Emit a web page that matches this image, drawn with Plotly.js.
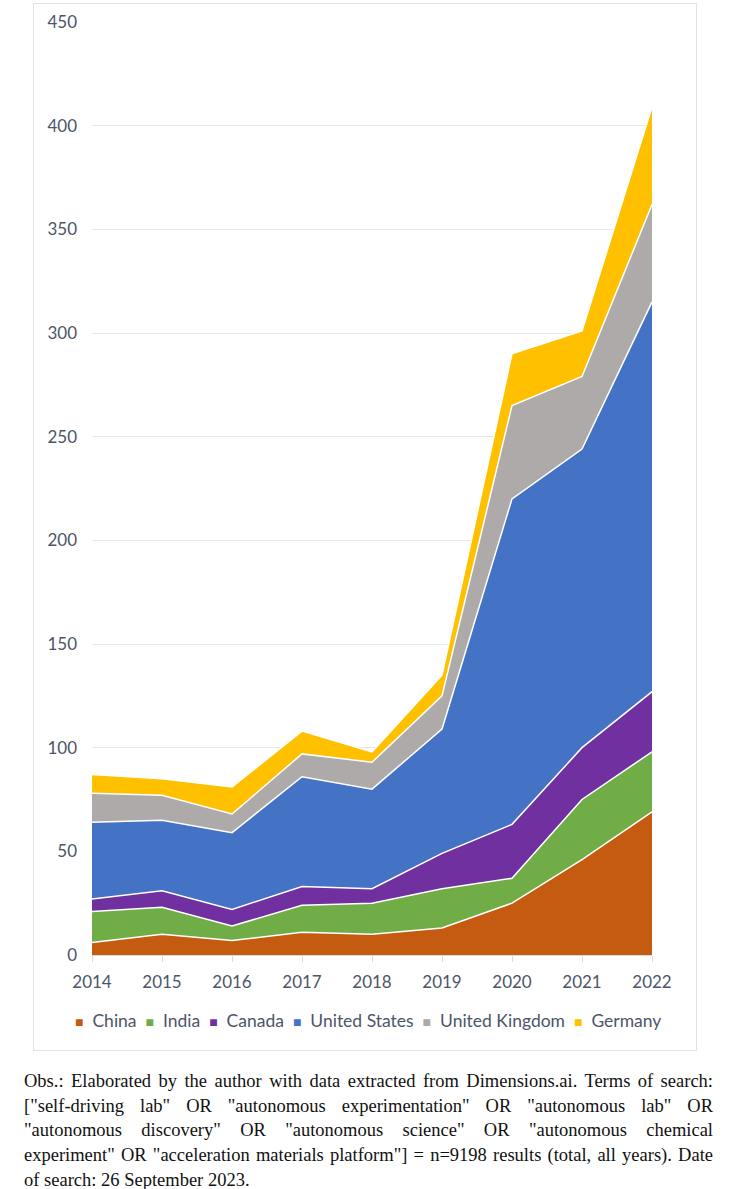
<!DOCTYPE html>
<html>
<head>
<meta charset="utf-8">
<script src="https://cdn.plot.ly/plotly-3.0.1.min.js"></script>
<style>
  html, body { margin: 0; padding: 0; background: #ffffff; width: 744px; height: 1189px; overflow: hidden; }
  #chart { position: absolute; left: 33px; top: 3px; width: 662px; height: 1046px; border: 1px solid #dfe2e7; }
  #note { position: absolute; left: 24px; top: 1069px; width: 689px; font-family: "Liberation Serif", "DejaVu Serif", serif; font-size: 18.5px; line-height: 24.7px; color: #111111; }
  #note .j { text-align: justify; text-align-last: justify; white-space: nowrap; }
  #note .l { text-align: left; white-space: nowrap; }
</style>
</head>
<body>
<div id="chart"></div>
<div id="note">
  <div class="j">Obs.: Elaborated by the author with data extracted from Dimensions.ai. Terms of search:</div>
  <div class="j">["self-driving lab" OR "autonomous experimentation" OR "autonomous lab" OR</div>
  <div class="j">"autonomous discovery" OR "autonomous science" OR "autonomous chemical</div>
  <div class="j">experiment" OR "acceleration materials platform"] = n=9198 results (total, all years). Date</div>
  <div class="l">of search: 26 September 2023.</div>
</div>
<script>
const years = [2014, 2015, 2016, 2017, 2018, 2019, 2020, 2021, 2022];
const china = [6, 10, 7, 11, 10, 13, 25, 46, 69];
const india = [15, 13, 7, 13, 15, 19, 12, 29, 29];
const canada = [6, 8, 8, 9, 7, 17, 26, 25, 29];
const unitedStates = [37, 34, 37, 53, 48, 60, 157, 144, 188];
const unitedKingdom = [14, 12, 9, 11, 13, 16, 45, 35, 47];
const germany = [9, 8, 13, 11, 5, 10, 25, 22, 47];
const yTicks = [0, 50, 100, 150, 200, 250, 300, 350, 400, 450];

const seriesNames = ["China", "India", "Canada", "United States", "United Kingdom", "Germany"];
const seriesValues = [china, india, canada, unitedStates, unitedKingdom, germany];
const seriesColors = ["#C55A11", "#70AD47", "#7030A0", "#4472C4", "#AEAAAA", "#FFC000"];

const traces = seriesValues.map((vals, i) => ({
  type: "scatter", mode: "lines", x: years, y: vals,
  stackgroup: "one", name: seriesNames[i],
  line: { color: "#ffffff", width: 1.5 },
  fillcolor: seriesColors[i],
  showlegend: false, hoverinfo: "skip"
}));

const tickColor = "#4d5568";
const nb = "\u00A0";
const legendText = seriesNames.map((n, i) =>
  `<span style="color:${seriesColors[i]};font-size:14px">■</span>${nb}${nb}${n}`
).join(nb + nb);

const layout = {
  width: 662, height: 1046,
  margin: { l: 58, r: 44, t: 18, b: 95 },
  paper_bgcolor: "#ffffff", plot_bgcolor: "#ffffff",
  font: { family: "Lato, 'Open Sans', sans-serif", size: 17, color: tickColor },
  showlegend: false,
  xaxis: {
    range: [2014, 2022], tickvals: years, ticktext: years.map(String),
    showgrid: false, zeroline: false,
    showline: true, linecolor: "#d9d9d9", linewidth: 1,
    ticks: "outside", ticklen: 6, tickcolor: "#d9d9d9",
    ticklabelstandoff: 6,
    tickfont: { size: 17, color: tickColor }
  },
  yaxis: {
    range: [0, 450], tickvals: yTicks,
    showgrid: true, gridcolor: "#e4e7ec", gridwidth: 1,
    zeroline: false, showline: false, ticks: "",
    ticklabelstandoff: 14,
    tickfont: { size: 17, color: tickColor }
  },
  annotations: [{
    xref: "paper", yref: "paper", x: 0.493, y: -0.0697,
    xanchor: "center", yanchor: "middle", showarrow: false,
    text: legendText, font: { size: 17.5, color: tickColor }
  }]
};

Plotly.newPlot("chart", traces, layout, { displayModeBar: false, staticPlot: true });
</script>
</body>
</html>
